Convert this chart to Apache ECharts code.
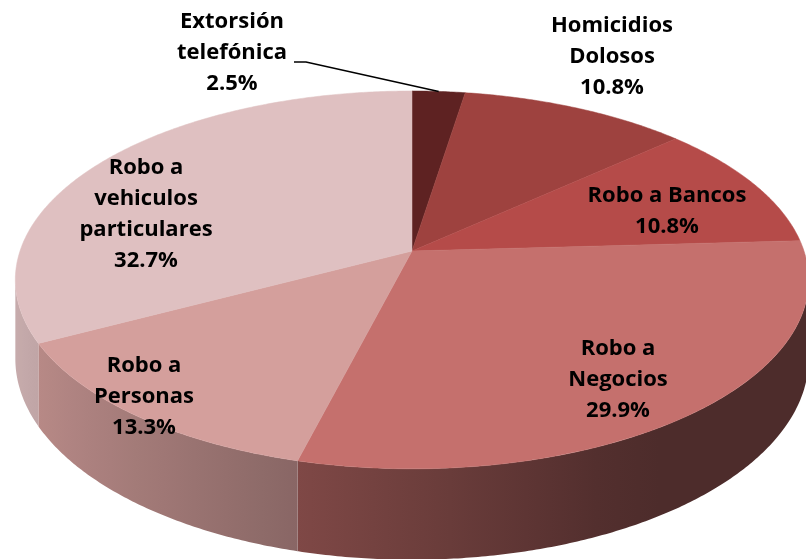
<!DOCTYPE html>
<html>
<head>
<meta charset="utf-8">
<title>Delitos</title>
<script src="https://cdn.jsdelivr.net/npm/echarts@6/dist/echarts.min.js"></script>
<style>html,body{margin:0;padding:0;background:#fff;}</style>
</head>
<body>
<div id="main" style="width:806px;height:559px;"></div>
<script>
// datos
var categories = ['Extorsión\ntelefónica', 'Homicidios\nDolosos', 'Robo a Bancos', 'Robo a\nNegocios', 'Robo a\nPersonas', 'Robo a\nvehiculos\nparticulares'];
var values = [2.5, 10.8, 10.8, 29.9, 13.3, 32.7];
var colors = ['#5e2222', '#9e423f', '#b54b49', '#c5706d', '#d49f9c', '#dfc0c1'];

// centro de cada etiqueta (px)
var labelPos = [[232, 53], [612, 57], [667, 211], [618, 380], [144, 397], [146, 214]];

// geometria del pastel 3D (perspectiva simple)
var cx = 412, cy = 251, A = 392, B = 184.5, K = 0.153, D = 77;

function proj(phi, r, drop) {
    var a = phi * Math.PI / 180;
    var u = r * Math.sin(a), v = -r * Math.cos(a);
    var w = 1 - K * v;
    return [cx + A * u / w, cy + (B * v + (drop || 0)) / w];
}

function shade(hex, phi) {
    var u = Math.sin(phi * Math.PI / 180);
    var f = Math.max(0.39, 0.56 - 0.34 * u);
    var n = parseInt(hex.slice(1), 16);
    var r = Math.round(((n >> 16) & 255) * f), g = Math.round(((n >> 8) & 255) * f), b = Math.round((n & 255) * f);
    return 'rgb(' + r + ',' + g + ',' + b + ')';
}

var total = values.reduce(function (s, v) { return s + v; }, 0);
var starts = [], acc = 0;
values.forEach(function (v) { starts.push(acc / total * 360); acc += v; });

// bordes visibles (punto mas a la derecha / izquierda)
var phiR = 90, phiL = 270, best = -1e9, worst = 1e9;
for (var p = 0; p <= 360; p += 0.1) {
    var x = proj(p, 1)[0];
    if (p <= 180 && x > best) { best = x; phiR = p; }
    if (p >= 180 && x < worst) { worst = x; phiL = p; }
}

function renderItem(params, api) {
    var i = params.dataIndex;
    var a0 = starts[i], a1 = a0 + values[i] / total * 360;
    var children = [];

    // cara superior
    var pts = [[cx, cy]];
    for (var a = a0; a < a1; a += 0.5) pts.push(proj(a, 1));
    pts.push(proj(a1, 1));
    children.push({
        type: 'polygon', z2: 5,
        shape: { points: pts },
        style: { fill: colors[i], stroke: colors[i], lineWidth: 0.5 }
    });

    // pared lateral
    var s = Math.max(a0, phiR), e = Math.min(a1, phiL);
    if (e > s) {
        var top = [], bot = [];
        for (var b = s; b < e; b += 0.5) { top.push(proj(b, 1)); bot.push(proj(b, 1, D)); }
        top.push(proj(e, 1)); bot.push(proj(e, 1, D));
        var xr = proj(s, 1)[0], xl = proj(e, 1)[0];
        var stops = [];
        for (var k = 0; k <= 10; k++) {
            var ph = e - (e - s) * k / 10;
            var px = proj(ph, 1)[0];
            stops.push({ offset: Math.min(1, Math.max(0, (px - xl) / ((xr - xl) || 1))), color: shade(colors[i], ph) });
        }
        stops.sort(function (m, n) { return m.offset - n.offset; });
        children.push({
            type: 'polygon', z2: 1,
            shape: { points: top.concat(bot.reverse()) },
            style: {
                fill: { type: 'linear', x: xl, y: 0, x2: xr, y2: 0, global: true, colorStops: stops }
            }
        });
    }

    // etiqueta
    var lp = labelPos[i];
    children.push({
        type: 'text', z2: 10,
        x: lp[0], y: lp[1],
        style: {
            text: categories[i] + '\n' + values[i].toFixed(1) + '%',
            align: 'center', verticalAlign: 'middle',
            font: 'bold 22px "Open Sans"', lineHeight: 31, fill: '#000'
        }
    });

    // linea guia para la rebanada pequena
    if (i === 0) {
        var end = proj((a0 + a1) / 2, 1);
        children.push({
            type: 'polyline', z2: 10,
            shape: { points: [[lp[0] + 62, lp[1] + 9], [lp[0] + 74, lp[1] + 9], end] },
            style: { stroke: '#000', lineWidth: 1.5, fill: null }
        });
    }

    return { type: 'group', children: children };
}

var myChart = echarts.init(document.getElementById('main'));
var option = {
    animation: false,
    backgroundColor: '#fff',
    series: [{
        type: 'custom',
        coordinateSystem: 'none',
        silent: true,
        renderItem: renderItem,
        data: values.map(function (v, i) { return [i, v]; })
    }]
};
myChart.setOption(option);
</script>
</body>
</html>
